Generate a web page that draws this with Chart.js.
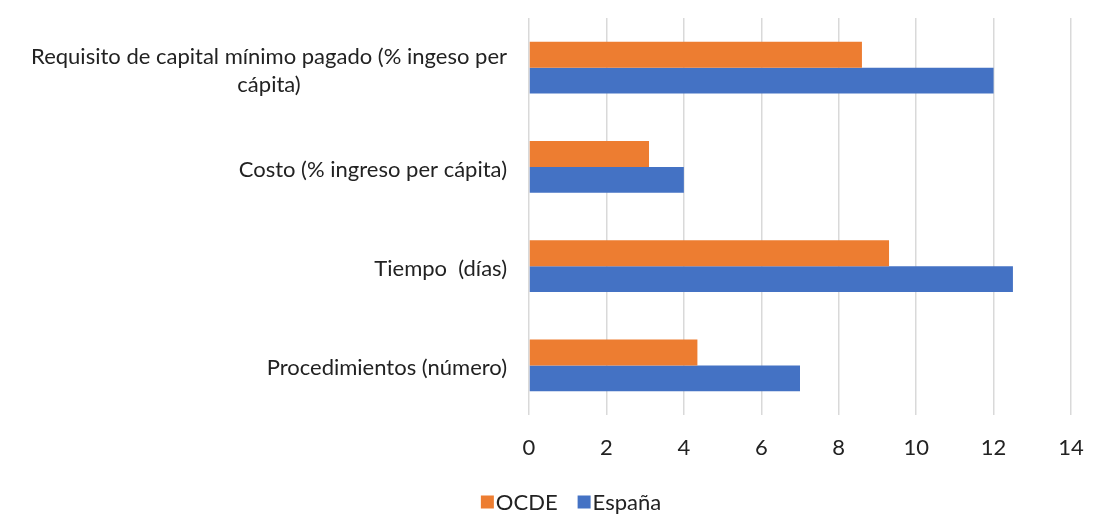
<!DOCTYPE html>
<html>
<head>
<meta charset="utf-8">
<script src="https://cdn.jsdelivr.net/npm/chart.js@4.4.1/dist/chart.umd.min.js"></script>
<style>
  html, body { margin: 0; padding: 0; background: #fff; }
  #wrap { width: 1116px; height: 514px; }
</style>
</head>
<body>
<div id="wrap"><canvas id="chart"></canvas></div>
<script>
// indicadores (una línea o varias por etiqueta)
const categories = [
    ['Requisito de capital mínimo pagado (% ingeso per', 'cápita)'],
    'Costo (% ingreso per cápita)',
    'Tiempo  (días)',
    'Procedimientos (número)'
];
const ocde = [8.6, 3.1, 9.3, 4.35];
const espana = [12.0, 4.0, 12.5, 7.0];
const xTicks = [0, 2, 4, 6, 8, 10, 12, 14];

const FONT = 'Lato';
const TEXT = '#222';

// etiquetas del eje Y centradas línea a línea, alineadas a la derecha como bloque
const yLabels = {
    id: 'yLabels',
    afterDraw(chart) {
        const scale = chart.scales.y;
        const c = chart.ctx;
        c.save();
        c.font = '22px ' + FONT;
        c.fillStyle = TEXT;
        c.textAlign = 'center';
        c.textBaseline = 'middle';
        const right = chart.chartArea.left - 22;
        const lh = 28;
        categories.forEach((lab, i) => {
            const lines = Array.isArray(lab) ? lab : [lab];
            const widest = Math.max(...lines.map(l => c.measureText(l).width));
            const cx = right - widest / 2;
            const y0 = scale.getPixelForValue(i) - (lines.length - 1) * lh / 2 + 3;
            lines.forEach((l, k) => c.fillText(l, cx, y0 + k * lh));
        });
        c.restore();
    }
};

// leyenda compacta: cuadro pegado al texto
const legendBox = {
    id: 'legendBox',
    afterDraw(chart) {
        const c = chart.ctx;
        c.save();
        c.font = '22px ' + FONT;
        c.textBaseline = 'middle';
        c.textAlign = 'left';
        const box = 13, gap = 2, spacing = 20, y = 502;
        const items = chart.data.datasets.map(d => ({ text: d.label, color: d.backgroundColor }));
        const total = items.reduce((s, it) => s + box + gap + c.measureText(it.text).width, 0) + spacing * (items.length - 1);
        let x = 571 - total / 2;
        items.forEach(it => {
            c.fillStyle = it.color;
            c.fillRect(x, y - box / 2, box, box);
            x += box + gap;
            c.fillStyle = TEXT;
            c.fillText(it.text, x, y + 1);
            x += c.measureText(it.text).width + spacing;
        });
        c.restore();
    }
};

new Chart(document.getElementById('chart'), {
    type: 'bar',
    data: {
        labels: categories,
        datasets: [
            { label: 'OCDE', data: ocde, backgroundColor: '#ED7D31' },
            { label: 'España', data: espana, backgroundColor: '#4472C4' }
        ]
    },
    options: {
        indexAxis: 'y',
        responsive: true,
        maintainAspectRatio: false,
        animation: false,
        layout: { padding: { top: 18, right: 45, left: 0, bottom: 34 } },
        datasets: { bar: { barPercentage: 1, categoryPercentage: 0.52 } },
        scales: {
            x: {
                min: 0, max: 14,
                afterBuildTicks: s => { s.ticks = xTicks.map(v => ({ value: v })); },
                afterFit: s => { s.height = 65; },
                grid: { color: '#d9d9d9', lineWidth: 1.5, drawTicks: false },
                border: { display: false },
                ticks: { color: TEXT, padding: 20, font: { family: FONT, size: 22 } }
            },
            y: {
                afterFit: s => { s.width = 529; },
                grid: { display: false },
                border: { display: false },
                ticks: { display: false }
            }
        },
        plugins: {
            legend: { display: false },
            tooltip: { enabled: false }
        }
    },
    plugins: [yLabels, legendBox]
});
</script>
</body>
</html>
